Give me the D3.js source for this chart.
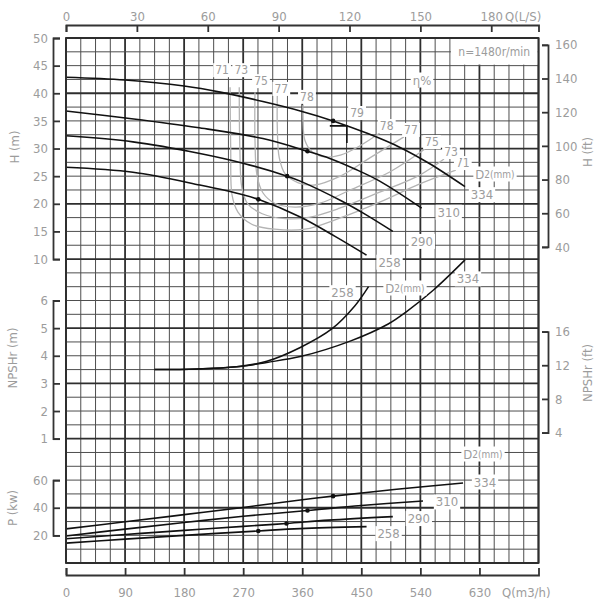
<!DOCTYPE html>
<html><head><meta charset="utf-8">
<script src="https://cdn.jsdelivr.net/npm/d3@7"></script>
<style>body{margin:0;background:#fff}</style>
</head><body><svg id="c" width="600" height="605"></svg>
<script>
// ---------- data ----------
const qTicks=[0,90,180,270,360,450,540,630];
const lsTicks=[0,30,60,90,120,150,180];
const hTicks=[50,45,40,35,30,25,20,15,10];
const hftTicks=[160,140,120,100,80,60,40];
const npshTicks=[6,5,4,3,2,1];
const npshftTicks=[16,12,8,4];
const pTicks=[60,40,20];
const diameters=["334","310","290","258"];

const head334=[[0,42.9],[90,42.4],[180,41.3],[235,40.2],[300,38.5],[357,36.8],[407,35.0],[460,32.7],[509,30.2],[555,27.2],[608,23.1]];
const head310=[[0,36.8],[100,35.4],[200,33.8],[300,31.8],[368,29.5],[402,28.2],[440,26.3],[478,24.1],[542,19.2]];
const head290=[[0,32.3],[102,31.2],[204,29.1],[271,27.3],[337,25.0],[357,24.1],[420,20.5],[453,18.3],[498,15.0]];
const head258=[[0,26.6],[102,25.7],[204,23.4],[271,21.6],[293,20.8],[357,17.6],[410,14.1],[458,10.7]];
const headDots=[407,368,337,293];

const npsh258=[[135,3.5],[200,3.52],[260,3.6],[306,3.8],[357,4.3],[405,4.97],[440,5.8],[461,6.5]];
const npsh334=[[135,3.5],[200,3.52],[260,3.6],[306,3.76],[357,3.97],[433,4.53],[491,5.15],[519,5.6],[560,6.38],[608,7.47]];

const pow334=[[0,24.7],[90,29.8],[180,35.0],[270,40.2],[357,45.6],[407,48.4],[500,53.2],[605,57.9]];
const pow310=[[0,19.6],[90,24.5],[180,29.3],[270,33.8],[368,38.0],[450,41.6],[544,44.9]];
const pow290=[[0,17.5],[90,20.6],[180,23.6],[270,26.5],[336,28.6],[400,31.0],[498,33.6]];
const pow258=[[0,14.4],[90,17.3],[180,20.0],[293,23.2],[357,24.9],[458,26.3]];
const powDots=[[407,48.4],[368,38.0],[336,28.6],[293,23.2]];

const effLevels=["71","73","75","77","78"];
const eff71=[[250,41.1],[251,29.7],[253,21.6],[262,18.5],[283,16.3],[318,15.4],[364,15.4],[417,17.4],[478,20.3],[539,23.6],[594,26.1]];
const eff73=[[264,41.1],[265,29.7],[268,22.9],[277,20.0],[299,18.2],[334,17.3],[372,17.6],[417,19.2],[478,22.1],[539,25.2],[576,28.1]];
const eff75=[[288,40.2],[288,31.5],[291,25.2],[300,22.0],[318,20.1],[349,19.4],[387,20.1],[433,22.5],[494,25.8],[547,29.9]];
const eff77=[[322,39.7],[322,33.7],[325,28.3],[334,25.4],[354,23.8],[379,23.4],[418,25.0],[463,28.3],[515,32.1]];
const eff78=[[361,37.9],[361,35.2],[364,31.5],[375,29.4],[393,28.5],[418,28.8],[448,30.5],[478,32.8]];
const bepLevel="79";
const bepMarker=[[402,34.1],[428,34.1],[428,31.0]];
const speedText="n=1480r/min";

// ---------- scales ----------
const FONT="'DejaVu Sans Condensed','DejaVu Sans',sans-serif";
const TXT="#9c9c9c";
const svg=d3.select("#c");
const x=d3.scaleLinear().domain([0,720]).range([66,538.5]);
const xLs=d3.scaleLinear().domain([0,200]).range([66,538.5]);
const yk=d3.scaleLinear().domain([0,38]).range([38,563]);
const yH=d3.scaleLinear().domain([50,10]).range([yk(0),yk(16)]);
const yN=d3.scaleLinear().domain([6,1]).range([yk(19),yk(29)]);
const yP=d3.scaleLinear().domain([60,20]).range([yk(32),yk(36)]);
const FT=0.3048;
const yHft=d3.scaleLinear().domain([160,40]).range([yH(160*FT),yH(40*FT)]);
const yNft=d3.scaleLinear().domain([16,4]).range([yN(16*FT),yN(4*FT)]);
const fmt=d3.format("d");

// ---------- grid ----------
const grid=svg.append("g");
d3.range(0,33).forEach(i=>{
  const th=i%4===0;
  grid.append("line").attr("x1",x(i*22.5)).attr("x2",x(i*22.5)).attr("y1",yk(0)).attr("y2",yk(38))
    .attr("stroke",th?"#2e2e2e":"#4e4e4e").attr("stroke-width",th?1.8:1);
});
const thickRows=new Set([0,4,8,12,16,21,25,29,34,38]);
d3.range(0,39).forEach(k=>{
  const th=thickRows.has(k);
  grid.append("line").attr("x1",x(0)).attr("x2",x(720)).attr("y1",yk(k)).attr("y2",yk(k))
    .attr("stroke",th?"#2e2e2e":"#4e4e4e").attr("stroke-width",th?1.8:1);
});

// ---------- axes ----------
function styleAxis(g){
  g.attr("font-family",null).attr("font-size",null);
  g.selectAll("path,line").attr("stroke","#333").attr("stroke-width",1.8);
  g.selectAll("text").attr("fill",TXT).style("font-family",FONT).style("font-size","13px");
}
svg.append("g").attr("transform","translate(0,25)")
  .call(d3.axisTop(xLs).tickValues(lsTicks).tickFormat(fmt).tickSize(-7).tickSizeOuter(-7).tickPadding(4)).call(styleAxis);
svg.append("g").attr("transform","translate(0,575)")
  .call(d3.axisBottom(x).tickValues(qTicks).tickFormat(fmt).tickSize(-7).tickSizeOuter(-7).tickPadding(13)).call(styleAxis);
svg.append("g").attr("transform","translate(53,0)")
  .call(d3.axisLeft(yH).tickValues(hTicks).tickFormat(fmt).tickSize(-7).tickSizeOuter(-7).tickPadding(5)).call(styleAxis);
svg.append("g").attr("transform","translate(53,0)")
  .call(d3.axisLeft(yN).tickValues(npshTicks).tickFormat(fmt).tickSize(-7).tickSizeOuter(-7).tickPadding(5)).call(styleAxis);
svg.append("g").attr("transform","translate(53,0)")
  .call(d3.axisLeft(yP).tickValues(pTicks).tickFormat(fmt).tickSize(-7).tickSizeOuter(-7).tickPadding(5)).call(styleAxis);
svg.append("g").attr("transform","translate(548,0)")
  .call(d3.axisRight(yHft).tickValues(hftTicks).tickFormat(fmt).tickSize(-6).tickSizeOuter(-6).tickPadding(7)).call(styleAxis);
svg.append("g").attr("transform","translate(548,0)")
  .call(d3.axisRight(yNft).tickValues(npshftTicks).tickFormat(fmt).tickSize(-6).tickSizeOuter(-6).tickPadding(7)).call(styleAxis);

function txt(s,X,Y,opt={}){
  const t=svg.append("text").attr("x",X).attr("y",Y).attr("fill",TXT)
    .style("font-family",FONT).style("font-size",(opt.size||13)+"px")
    .attr("text-anchor",opt.anchor||"start");
  if(opt.rot) t.attr("transform",`rotate(${opt.rot},${X},${Y})`);
  t.text(s);
  return t;
}
txt("Q(L/S)",505,21);
txt("Q(m3/h)",502,597);
txt("H (m)",19,147,{anchor:"middle",rot:-90});
txt("NPSHr (m)",17,358,{anchor:"middle",rot:-90});
txt("P (kw)",17,508,{anchor:"middle",rot:-90});
txt("H (ft)",592,152,{anchor:"middle",rot:-90});
txt("NPSHr (ft)",592,373,{anchor:"middle",rot:-90});

// ---------- curves ----------
const curveLayer=svg.append("g");
const smooth=d3.curveCatmullRom.alpha(0.5);
const lineH=d3.line().x(d=>x(d[0])).y(d=>yH(d[1])).curve(smooth);
const lineE=d3.line().x(d=>x(d[0])).y(d=>yH(d[1])).curve(smooth);
const lineN=d3.line().x(d=>x(d[0])).y(d=>yN(d[1])).curve(smooth);
const lineP=d3.line().x(d=>x(d[0])).y(d=>yP(d[1])).curve(smooth);

const effCurves=[eff71,eff73,eff75,eff77,eff78];
effCurves.forEach(c=>curveLayer.append("path").attr("d",lineE(c)).attr("fill","none")
  .attr("stroke","#b4b4b4").attr("stroke-width",1.3));

const headCurves=[head334,head310,head290,head258];
const powCurves=[pow334,pow310,pow290,pow258];
const npshCurves=[npsh258,npsh334];
headCurves.forEach(c=>curveLayer.append("path").attr("d",lineH(c)).attr("fill","none").attr("stroke","#111").attr("stroke-width",1.6));
npshCurves.forEach(c=>curveLayer.append("path").attr("d",lineN(c)).attr("fill","none").attr("stroke","#111").attr("stroke-width",1.5));
powCurves.forEach(c=>curveLayer.append("path").attr("d",lineP(c)).attr("fill","none").attr("stroke","#111").attr("stroke-width",1.6));

headCurves.forEach((c,i)=>{
  const q=headDots[i];
  let h=null;
  for(let j=0;j<c.length-1;j++){ if(q>=c[j][0]&&q<=c[j+1][0]){const t=(q-c[j][0])/(c[j+1][0]-c[j][0]);h=c[j][1]+t*(c[j+1][1]-c[j][1]);} }
  curveLayer.append("circle").attr("cx",x(q)).attr("cy",yH(h)).attr("r",2.3).attr("fill","#111");
});
powDots.forEach(d=>curveLayer.append("circle").attr("cx",x(d[0])).attr("cy",yP(d[1])).attr("r",2.3).attr("fill","#111"));
curveLayer.append("path").attr("d",d3.line().x(d=>x(d[0])).y(d=>yH(d[1]))(bepMarker)).attr("fill","none").attr("stroke","#111").attr("stroke-width",1.6);

// ---------- labels ----------
const labLayer=svg.append("g");
function label(s,X,Y,size=13,sub=false){
  const t=labLayer.append("text").attr("x",X).attr("y",Y).attr("fill",TXT)
    .attr("text-anchor","middle").attr("dominant-baseline","central")
    .style("font-family",FONT).style("font-size",size+"px");
  if(sub){t.append("tspan").text("D");t.append("tspan").style("font-size",(size-3)+"px").text("2(mm)");}
  else t.text(s);
  const bb=t.node().getBBox();
  labLayer.insert("rect",()=>t.node()).attr("x",bb.x-2).attr("y",bb.y).attr("width",bb.width+4).attr("height",bb.height).attr("fill","#fff");
  return t;
}
const bx=x(585);
labLayer.append("rect").attr("x",bx+1).attr("y",yk(0)+1).attr("width",x(720)-bx-2).attr("height",yk(2)-yk(0)-2).attr("fill","#fff");
labLayer.append("text").attr("x",(bx+x(720))/2).attr("y",yk(1)).attr("fill",TXT).attr("text-anchor","middle")
  .attr("dominant-baseline","central").style("font-family",FONT).style("font-size","12px").text(speedText);
label("η%",422,80,13);

const headOff=[[17,8],[27,4],[29,10],[23,7]];
headCurves.forEach((c,i)=>{const e=c[c.length-1];label(diameters[i],x(e[0])+headOff[i][0],yH(e[1])+headOff[i][1]);});
label("",495,174,13,true);
{const e=npsh258[npsh258.length-1];label("258",x(e[0])-26,yN(e[1])+6);}
{const e=npsh334[npsh334.length-1];label("334",x(e[0])+3,yN(e[1])+19);}
label("",405,288,13,true);
const powOff=[[22,-1],[24,1],[26,2],[22,7]];
powCurves.forEach((c,i)=>{const e=c[c.length-1];label(diameters[i],x(e[0])+powOff[i][0],yP(e[1])+powOff[i][1]);});
label("",483,454,13,true);

const leftOff=[[-8,-17],[2,-17],[6,-11],[4,-6],[4,-8]];
effCurves.forEach((c,i)=>{
  const s=c[0], e=c[c.length-1];
  label(effLevels[i],x(s[0])+leftOff[i][0],yH(s[1])+leftOff[i][1],12);
  label(effLevels[i],x(e[0])+7,yH(e[1])-7,12);
});
label(bepLevel,357,113,12);

svg.append("rect").attr("x",x(0)).attr("y",yk(0)).attr("width",x(720)-x(0)).attr("height",yk(38)-yk(0))
  .attr("fill","none").attr("stroke","#2e2e2e").attr("stroke-width",1.8);
</script></body></html>
